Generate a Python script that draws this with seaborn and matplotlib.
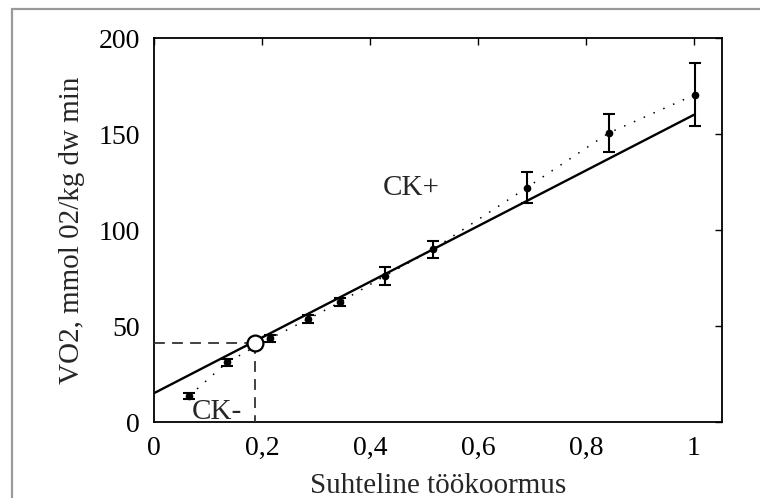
import matplotlib
matplotlib.use("Agg")
import matplotlib.pyplot as plt
import seaborn as sns
import pandas as pd
from matplotlib.patches import Rectangle

# Data
load = [0.065, 0.135, 0.215, 0.285, 0.345, 0.427, 0.517, 0.690, 0.842, 1.002]
vo2 = [13.5, 31.0, 43.5, 53.5, 62.5, 76.0, 90.0, 122.0, 150.5, 170.5]
vo2_err = [1.5, 2.0, 2.0, 2.0, 2.0, 4.5, 4.5, 8.0, 10.0, 16.5]
fit_x = [0.0, 1.0]
fit_y = [15.0, 160.0]
thr_x = [0.187]
thr_y = [41.0]
x_ticks = [0, 0.2, 0.4, 0.6, 0.8, 1.0]
x_tick_labels = ["0", "0,2", "0,4", "0,6", "0,8", "1"]
y_ticks = [0, 50, 100, 150, 200]
x_label = "Suhteline töökoormus"
y_label = "VO2, mmol 02/kg dw min"

sns.set_theme(style="white")
plt.rcParams["font.family"] = ["Liberation Serif", "DejaVu Serif"]

fig = plt.figure(figsize=(7.6, 4.98), dpi=100)
ax = fig.add_axes([154 / 760, 1 - 422 / 498, (722 - 154) / 760, (422 - 38) / 498])

# outer frame (only left/top visible)
fig.patches.append(Rectangle((12 / 760, -0.05), 1.2, 1 - 9 / 498 + 0.05,
                             transform=fig.transFigure, fill=False,
                             edgecolor="#9a9a9a", linewidth=1.6, zorder=0))

df_pts = pd.DataFrame({"x": load, "y": vo2})
df_fit = pd.DataFrame({"x": fit_x, "y": fit_y})

sns.lineplot(data=df_fit, x="x", y="y", ax=ax, color="black", linewidth=1.7)
sns.lineplot(data=df_pts, x="x", y="y", ax=ax, color="black", linewidth=1.1,
             linestyle=(0, (1, 6)))
ax.errorbar(load, vo2, yerr=vo2_err, fmt="o", color="black", markersize=4.5,
            elinewidth=1.5, capsize=4.5, capthick=1.5, zorder=4)

# threshold point with dashed guide lines
ax.plot([0, thr_x[0]], [thr_y[0], thr_y[0]], color="#333333", linestyle=(0, (6, 4)),
        linewidth=1.3, zorder=3)
ax.plot([thr_x[0], thr_x[0]], [thr_y[0], 0], color="#333333", linestyle=(0, (6, 4)),
        linewidth=1.3, zorder=3)
sns.scatterplot(x=thr_x, y=thr_y, ax=ax, s=130, color="white", edgecolor="black",
                linewidth=1.6, zorder=5)

ax.text(0.424, 122, "CK+", fontsize=21, va="center", ha="left")
ax.text(0.07, 5.0, "CK-", fontsize=21, va="center", ha="left")

ax.set_xlim(0, 1.052)
ax.set_ylim(0, 200)
ax.set_xticks(x_ticks)
ax.set_xticklabels(x_tick_labels)
ax.set_yticks(y_ticks)
ax.tick_params(direction="in", length=5, width=1, top=True, right=True,
               labelsize=20, colors="black", pad=10)
ax.set_xlabel(x_label, fontsize=21, labelpad=9)
ax.set_ylabel(y_label, fontsize=21, labelpad=10)
for s in ax.spines.values():
    s.set_visible(True)
    s.set_color("black")
    s.set_linewidth(1.3)

fig.savefig("out.png", dpi=100)
